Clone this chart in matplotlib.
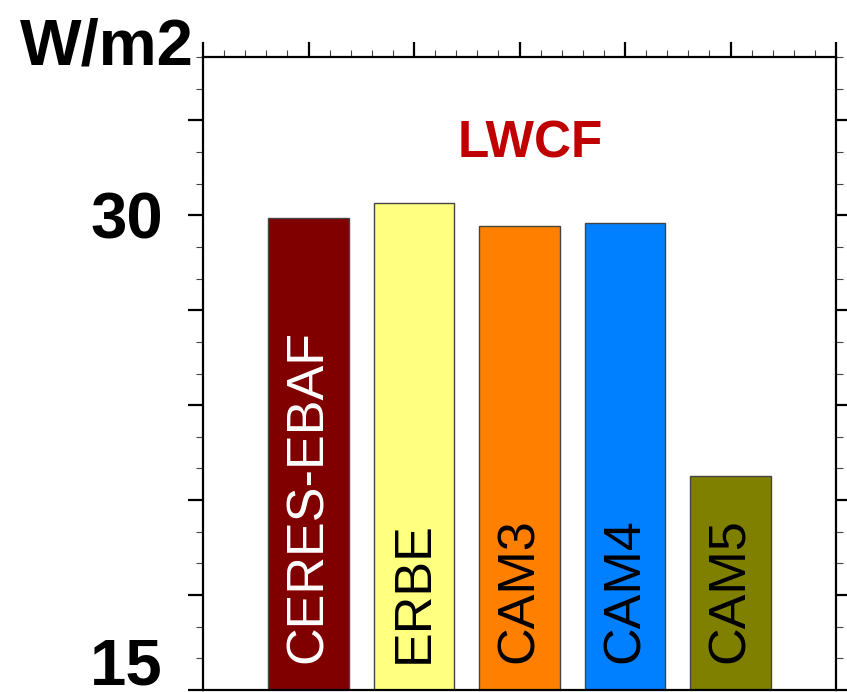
import matplotlib.pyplot as plt
import matplotlib.transforms as mtransforms
from matplotlib.ticker import MultipleLocator, FixedLocator

plt.rcParams['font.family'] = ['Liberation Sans', 'DejaVu Sans']

# data
models = ['CERES-EBAF', 'ERBE', 'CAM3', 'CAM4', 'CAM5']
lwcf = [29.9, 30.38, 29.65, 29.75, 21.76]
colors = ['#800000', '#ffff80', '#ff8000', '#0080ff', '#808000']
text_colors = ['white', 'black', 'black', 'black', 'black']
ytick_vals = [15, 18, 21, 24, 27, 30, 33]
ytick_labels = ['15', '', '', '', '', '30', '']

fig = plt.figure(figsize=(8.47, 6.92), dpi=100)
ax = fig.add_axes([203 / 847, 2 / 692, (836 - 203) / 847, (690 - 57) / 692])

pos = list(range(1, len(models) + 1))
ax.bar(pos, lwcf, width=0.76, bottom=0, color=colors,
       edgecolor='#444444', linewidth=1.0, zorder=2)

for x, name, tc in zip(pos, models, text_colors):
    ax.text(x, 15.85, name, rotation=90, ha='center', va='bottom',
            fontsize=37.5, color=tc, zorder=3)

ax.text(3.1, 31.84, 'LWCF', ha='center', va='baseline', fontsize=37,
        fontweight='bold', color='#c00000')

ax.set_xlim(0, 6)
ax.set_ylim(15, 35)

# y ticks: major every 3, minor every 1, on both sides, outward
ax.yaxis.set_major_locator(FixedLocator(ytick_vals))
ax.set_yticklabels(ytick_labels)
ax.yaxis.set_minor_locator(MultipleLocator(1))
ax.tick_params(axis='y', which='major', direction='out', length=11, width=1.6,
               left=True, right=True, labelsize=47, pad=18)
ax.tick_params(axis='y', which='minor', direction='out', length=5, width=0.8,
               left=True, right=True, color='#444444')
for lab in ax.get_yticklabels():
    lab.set_fontweight('bold')

# bottom label sits on its tick, nudged up a bit so it stays inside the figure
lab15 = ax.get_yticklabels()[0]
lab15.set_verticalalignment('baseline')
lab15.set_transform(lab15.get_transform() +
                    mtransforms.ScaledTranslation(0, 4 / 72, fig.dpi_scale_trans))

# x ticks only along the top
ax.xaxis.set_major_locator(MultipleLocator(1))
ax.xaxis.set_minor_locator(MultipleLocator(0.2))
ax.tick_params(axis='x', which='major', direction='out', length=11, width=1.6,
               top=True, bottom=False, labeltop=False, labelbottom=False)
ax.tick_params(axis='x', which='minor', direction='out', length=5, width=0.8,
               top=True, bottom=False, color='#444444')

for sp in ax.spines.values():
    sp.set_linewidth(1.6)

fig.text(20 / 847, 1 - 65 / 692, 'W/m2', ha='left', va='baseline',
         fontsize=47, fontweight='bold')

fig.savefig('out.png', dpi=100)
